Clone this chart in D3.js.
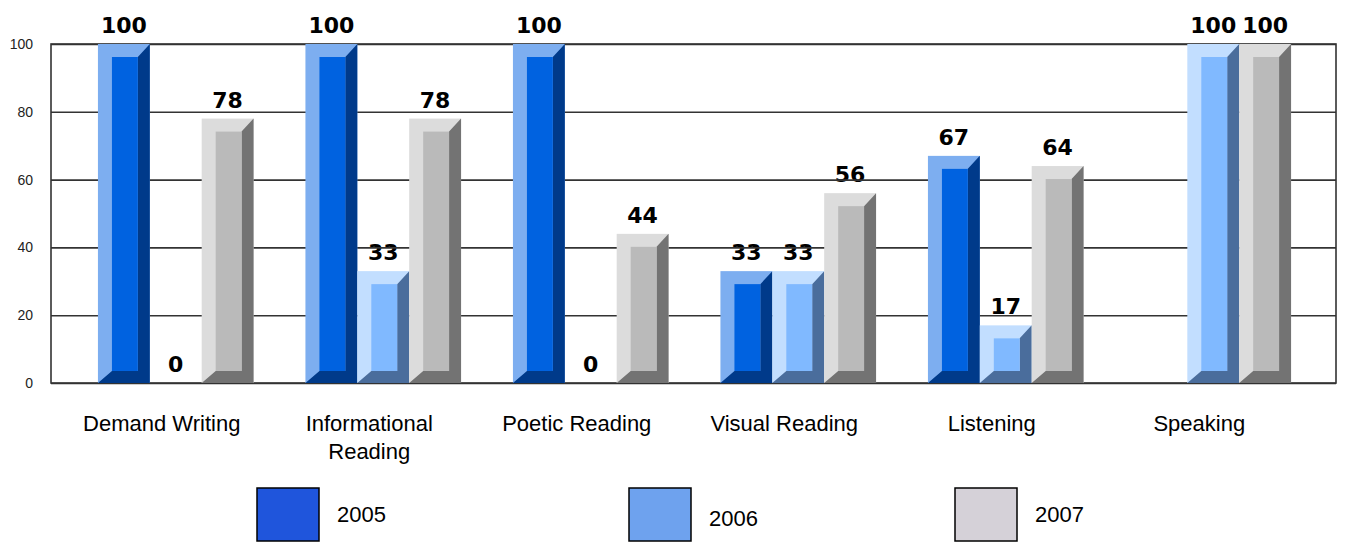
<!DOCTYPE html>
<html>
<head>
<meta charset="utf-8">
<script src="https://cdn.jsdelivr.net/npm/d3@7"></script>
<style>
  body { margin: 0; background: #fff; }
  text { font-family: "Liberation Sans", Arial, sans-serif; }
</style>
</head>
<body>
<div id="chart"></div>
<script>
// Data
const categories = ["Demand Writing", "Informational\nReading", "Poetic Reading", "Visual Reading", "Listening", "Speaking"];
const years = ["2005", "2006", "2007"];
const values2005 = [100, 100, 100, 33, 67, null];
const values2006 = [0, 33, 0, 33, 17, 100];
const values2007 = [78, 78, 44, 56, 64, 100];
const yTicks = [0, 20, 40, 60, 80, 100];

// bevel colours per year: light edge, front face, dark side
const barColors = [
  { light: "#7DAEF0", face: "#0062E0", dark: "#003A8A" },
  { light: "#C2DEFF", face: "#80B9FF", dark: "#4A6D9C" },
  { light: "#DCDCDC", face: "#BABABA", dark: "#737373" }
];
const legendColors = ["#1F55DC", "#6EA2EE", "#D5D1D8"];

let width = 1345;
let height = 542;
const plotLeft = 51, plotRight = 1336, plotTop = 44, plotBottom = 383;

let svg = d3.select("#chart").append("svg")
  .attr("width", width)
  .attr("height", height)
  .style("background", "#fff");

let series = [values2005, values2006, values2007];
let rows = [];
categories.forEach((c, i) => {
  years.forEach((yr, j) => {
    rows.push({ cat: c, year: yr, s: j, value: series[j][i] });
  });
});

// Scales
var x0 = d3.scaleBand()
  .domain(categories)
  .range([72, 1317])
  .paddingInner(0.25)
  .paddingOuter(0.125);
var x1 = d3.scaleBand()
  .domain(years)
  .range([0, x0.bandwidth()]);
var y = d3.scaleLinear()
  .domain([0, 100])
  .range([plotBottom, plotTop]);

// value labels (sit under the grid lines, like the original)
svg.append("g")
  .selectAll("text")
  .data(rows.filter(d => d.value !== null))
  .enter()
  .append("text")
  .attr("x", d => x0(d.cat) + x1(d.year) + x1.bandwidth() / 2)
  .attr("y", d => y(d.value) - 11)
  .attr("text-anchor", "middle")
  .style("font-family", "'DejaVu Sans', sans-serif")
  .style("font-weight", "bold")
  .style("font-size", "22px")
  .attr("fill", "#000")
  .text(d => d.value);

// grid lines
svg.append("g")
  .attr("transform", `translate(${plotLeft},0)`)
  .call(d3.axisLeft(y).tickValues(yTicks).tickSize(-(plotRight - plotLeft)).tickFormat(""))
  .call(g => g.select(".domain").remove())
  .call(g => g.selectAll("line").attr("stroke", "#333").attr("stroke-width", 1.6));

// y tick labels
svg.append("g")
  .attr("transform", `translate(${plotLeft},0)`)
  .call(d3.axisLeft(y).tickValues(yTicks).tickSize(0).tickPadding(18))
  .call(g => g.select(".domain").remove())
  .call(g => g.selectAll("text")
    .style("font-family", "'Liberation Sans', Arial, sans-serif")
    .style("font-size", "14px")
    .attr("fill", "#222"));

// frame
svg.append("rect")
  .attr("x", plotLeft).attr("y", plotTop)
  .attr("width", plotRight - plotLeft).attr("height", plotBottom - plotTop)
  .attr("fill", "none")
  .attr("stroke", "#333")
  .attr("stroke-width", 1.6);

// bevelled bars
const bl = 14, bt = 13, br = 12, bb = 12;
let bars = svg.append("g")
  .selectAll("g")
  .data(rows.filter(d => d.value))
  .enter()
  .append("g");

bars.append("rect")
  .attr("x", d => x0(d.cat) + x1(d.year))
  .attr("y", d => y(d.value))
  .attr("width", x1.bandwidth())
  .attr("height", d => plotBottom - y(d.value))
  .attr("fill", d => barColors[d.s].light);

bars.append("path")
  .attr("d", d => {
    let xa = x0(d.cat) + x1(d.year), xb = xa + x1.bandwidth();
    let yt = y(d.value), yb = plotBottom;
    return `M${xb},${yt}L${xb},${yb}L${xa},${yb}L${xa + bl},${yb - bb}L${xb - br},${yb - bb}L${xb - br},${yt + bt}Z`;
  })
  .attr("fill", d => barColors[d.s].dark);

bars.append("rect")
  .attr("x", d => x0(d.cat) + x1(d.year) + bl)
  .attr("y", d => y(d.value) + bt)
  .attr("width", x1.bandwidth() - bl - br)
  .attr("height", d => Math.max(0, plotBottom - y(d.value) - bt - bb))
  .attr("fill", d => barColors[d.s].face);

// category labels
let catText = svg.append("g")
  .selectAll("text")
  .data(categories)
  .enter()
  .append("text")
  .attr("text-anchor", "middle")
  .style("font-size", "22px")
  .attr("fill", "#000");

catText.selectAll("tspan")
  .data(d => d.split("\n").map(t => ({ t: t, c: d })))
  .enter()
  .append("tspan")
  .attr("x", d => x0(d.c) + x0.bandwidth() / 2 - 14)
  .attr("y", (d, i) => 431 + i * 28)
  .text(d => d.t);

// legend
const legendX = [257, 629, 955];
let legend = svg.append("g")
  .selectAll("g")
  .data(years)
  .enter()
  .append("g")
  .attr("transform", (d, i) => `translate(${legendX[i]},488)`);

legend.append("rect")
  .attr("width", 62)
  .attr("height", 53)
  .attr("fill", (d, i) => legendColors[i])
  .attr("stroke", "#000")
  .attr("stroke-width", 1.5);

legend.append("text")
  .attr("x", 80)
  .attr("y", (d, i) => i === 1 ? 38 : 34)
  .style("font-size", "22px")
  .attr("fill", "#000")
  .text(d => d);
</script>
</body>
</html>
